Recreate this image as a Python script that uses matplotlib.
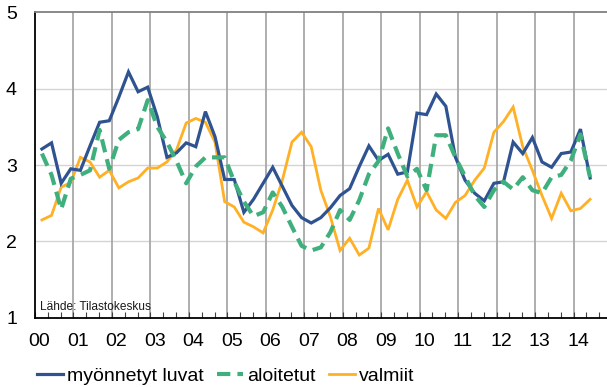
import numpy as np
import matplotlib
matplotlib.use("Agg")
import matplotlib.pyplot as plt

plt.rcParams['font.family'] = ['Liberation Sans', 'DejaVu Sans']

# Quarterly series, 2000Q1 - 2014Q2
myonnetyt = [3.21, 3.29, 2.76, 2.95, 2.93, 3.25, 3.56, 3.58, 3.89, 4.22,
             3.96, 4.02, 3.63, 3.10, 3.16, 3.29, 3.24, 3.70, 3.37, 2.81,
             2.81, 2.38, 2.55, 2.76, 2.97, 2.72, 2.47, 2.31, 2.24, 2.31,
             2.44, 2.60, 2.69, 2.98, 3.25, 3.06, 3.14, 2.88, 2.91, 3.68,
             3.66, 3.93, 3.77, 3.10, 2.80, 2.63, 2.53, 2.76, 2.78, 3.30,
             3.15, 3.36, 3.04, 2.97, 3.15, 3.17, 3.47, 2.83]
aloitetut = [3.15, 2.87, 2.42, 2.82, 2.87, 2.93, 3.46, 2.95, 3.33, 3.43,
             3.47, 3.85, 3.50, 3.30, 3.05, 2.76, 2.98, 3.10, 3.10, 3.10,
             2.78, 2.52, 2.33, 2.38, 2.64, 2.45, 2.19, 1.94, 1.88, 1.92,
             2.12, 2.41, 2.28, 2.54, 2.88, 3.05, 3.48, 3.15, 2.85, 2.95,
             2.67, 3.39, 3.39, 3.10, 2.85, 2.60, 2.45, 2.67, 2.78, 2.68,
             2.84, 2.67, 2.63, 2.84, 2.87, 3.06, 3.40, 2.84]
valmiit = [2.28, 2.34, 2.71, 2.77, 3.10, 3.04, 2.84, 2.93, 2.70, 2.78,
           2.83, 2.96, 2.96, 3.04, 3.20, 3.55, 3.61, 3.56, 3.30, 2.52,
           2.45, 2.25, 2.19, 2.11, 2.41, 2.80, 3.30, 3.43, 3.24, 2.67,
           2.32, 1.88, 2.04, 1.82, 1.91, 2.43, 2.15, 2.55, 2.80, 2.45,
           2.65, 2.41, 2.30, 2.51, 2.60, 2.80, 2.96, 3.43, 3.57, 3.76,
           3.24, 2.93, 2.60, 2.30, 2.63, 2.40, 2.43, 2.55]

years = list(range(2000, 2015))
year_labels = ['00', '01', '02', '03', '04', '05', '06', '07', '08', '09',
               '10', '11', '12', '13', '14']
series_names = ['myönnetyt luvat', 'aloitetut', 'valmiit']
source_text = 'Lähde: Tilastokeskus'

c_blue = '#2f5391'
c_green = '#3fb07d'
c_orange = '#ffb025'

n = len(myonnetyt)
t = 2000.18 + 0.25 * np.arange(n)

fig = plt.figure(figsize=(6.07, 3.87), dpi=100)
ax = fig.add_axes([35 / 607, 69.4 / 387, 577 / 607, 305.2 / 387])

ax.set_xlim(2000, 2015)
ax.set_ylim(1, 5)

# grid
for y in [2, 3, 4]:
    ax.axhline(y, color='#d4d4d4', lw=1.0, zorder=1)
for yr in years[1:]:
    ax.axvline(yr, color='#a8a8a8', lw=1.3, zorder=1)

ax.plot(t, myonnetyt, color=c_blue, lw=2.3, zorder=3, label=series_names[0],
        solid_joinstyle='miter')
ax.plot(t, aloitetut, color=c_green, lw=3.0, zorder=4, dashes=(3.2, 1.7),
        label=series_names[1])
ax.plot(t, valmiit, color=c_orange, lw=2.0, zorder=2, label=series_names[2],
        solid_joinstyle='miter')

for s in ['right']:
    ax.spines[s].set_visible(False)
ax.spines['top'].set_color('#808080')
ax.spines['top'].set_linewidth(1.3)
ax.spines['left'].set_linewidth(1.3)
ax.spines['bottom'].set_linewidth(1.3)

ax.set_yticks([1, 2, 3, 4, 5])
ax.set_yticklabels(['1', '2', '3', '4', '5'], fontsize=14)
ax.tick_params(axis='y', length=0, pad=13)

ax.set_xticks([yr + 0.12 for yr in years])
ax.set_xticklabels(year_labels, fontsize=14)
ax.set_xticks(np.arange(2000, 2015.01, 1 / 3), minor=True)
ax.tick_params(axis='x', which='major', length=0, pad=11)
ax.tick_params(axis='x', which='minor', direction='in', length=4,
               width=0.8, color='#404040')

ax.text(2000.12, 1.14, source_text, fontsize=8.6, color='#1a1a1a',
        ha='left', va='center', zorder=5)

leg = fig.legend(loc='center left', bbox_to_anchor=(37 / 607, 1 - 376 / 387),
                 ncol=3, frameon=False, fontsize=14, handlelength=1.35,
                 handletextpad=0.18, columnspacing=0.7, borderpad=0,
                 borderaxespad=0)

fig.savefig('out.png', dpi=100)
